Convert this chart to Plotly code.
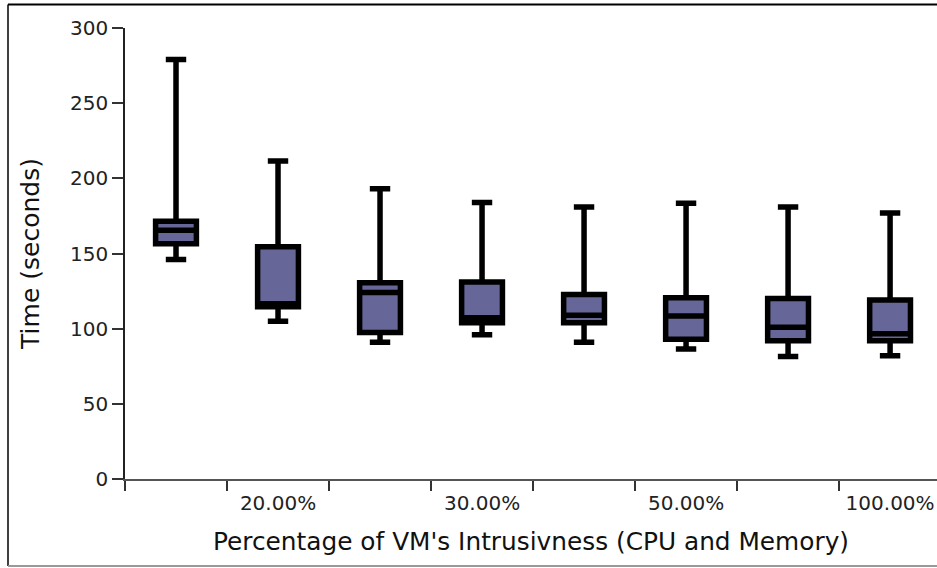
import plotly.graph_objects as go

# ---- data ----
positions = [0, 1, 2, 3, 4, 5, 6, 7]
upper_whisker = [279, 211.5, 193, 184, 181, 183.5, 181, 177]
q3_values = [171.5, 154.5, 130.5, 131, 122.7, 120.5, 120, 119]
median_values = [165.5, 116.5, 124, 107.2, 109, 108.5, 101, 96.7]
q1_values = [156.5, 114.5, 97.5, 104, 104, 93, 92, 92]
lower_whisker = [146, 105, 91, 96, 91, 86.5, 81.5, 82]

label_positions = [1, 3, 5, 7]
tick_labels = ["20.00%", "30.00%", "50.00%", "100.00%"]

FONT = "DejaVu Sans"
W, H = 937, 568
ML, MR, MT, MB = 125, 0, 28, 89

fig = go.Figure()
fig.add_trace(go.Box(
    x=positions,
    q1=q1_values, median=median_values, q3=q3_values,
    lowerfence=lower_whisker, upperfence=upper_whisker,
    boxpoints=False,
    width=0.40,
    whiskerwidth=0.5,
    fillcolor="#666699",
    line=dict(color="black", width=5.5),
    showlegend=False,
    hoverinfo="skip",
))

pw = W - ML - MR
ph = H - MT - MB
def px2x(p):
    return (p - ML) / pw
def py2y(p):
    return (H - MB - p) / ph

shapes = [
    dict(type="line", xref="paper", yref="paper", x0=px2x(8), x1=px2x(8), y0=py2y(4.5), y1=py2y(566),
         line=dict(color="black", width=1.5)),
    dict(type="line", xref="paper", yref="paper", x0=px2x(8), x1=px2x(W + 5), y0=py2y(4.5), y1=py2y(4.5),
         line=dict(color="black", width=2)),
    dict(type="line", xref="paper", yref="paper", x0=px2x(8), x1=px2x(W + 5), y0=py2y(566), y1=py2y(566),
         line=dict(color="#999999", width=2)),
]

fig.update_layout(
    width=W, height=H,
    margin=dict(l=ML, r=MR, t=MT, b=MB, pad=0, autoexpand=False),
    paper_bgcolor="white", plot_bgcolor="white",
    font=dict(family=FONT, color="#222222"),
    shapes=shapes,
    xaxis=dict(
        range=[-0.5, 7.46],
        tickmode="array", tickvals=label_positions, ticktext=tick_labels,
        ticks="outside", ticklen=5, tickcolor="rgba(0,0,0,0)",
        tickfont=dict(family=FONT, size=20, color="#222222"),
        minor=dict(tickmode="array", tickvals=[p - 0.5 for p in positions] + [7.5],
                   ticks="outside", ticklen=10, tickwidth=1.5, tickcolor="#333333"),
        showline=True, linecolor="#555555", linewidth=2,
        showgrid=False, zeroline=False,
        title=dict(text="Percentage of VM's Intrusivness (CPU and Memory)",
                   font=dict(family=FONT, size=24.8, color="#111111"), standoff=19),
        automargin=False,
        fixedrange=True,
    ),
    yaxis=dict(
        range=[0, 300],
        tickmode="array", tickvals=[0, 50, 100, 150, 200, 250, 300],
        ticks="outside", ticklen=11, tickwidth=1.5, tickcolor="#333333",
        tickfont=dict(family=FONT, size=20, color="#222222"),
        showline=True, linecolor="#222222", linewidth=1.5,
        showgrid=False, zeroline=False,
        title=dict(text="Time (seconds)", font=dict(family=FONT, size=25, color="#111111"), standoff=23),
        automargin=False,
        fixedrange=True,
    ),
)

fig.write_html("out.html", config={"displayModeBar": False},
               post_script="document.body.style.margin='0';document.body.style.overflow='hidden';")
